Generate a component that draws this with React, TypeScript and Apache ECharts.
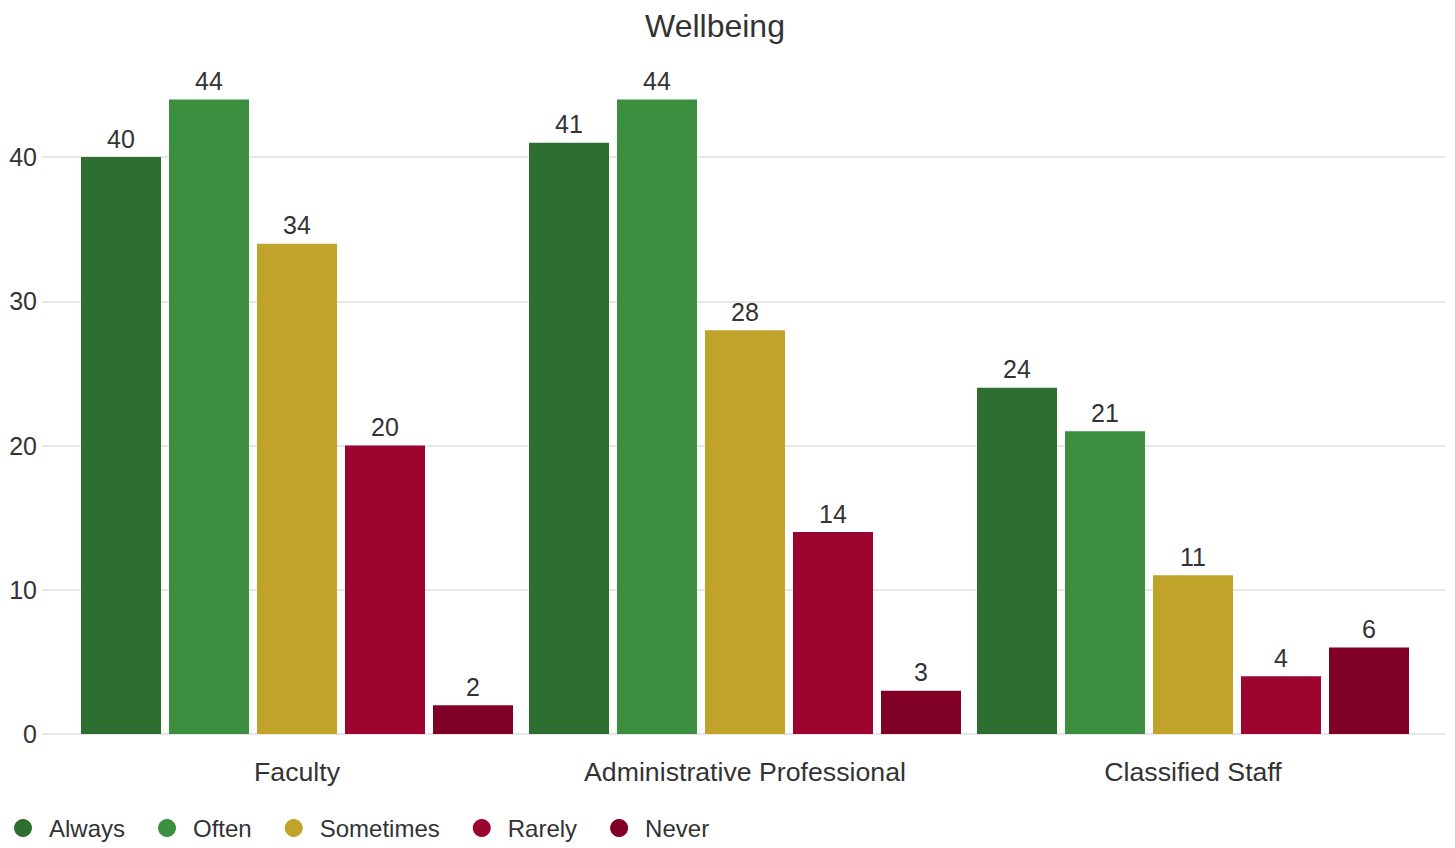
import React, { useEffect, useRef } from "react";
import * as echarts from "echarts";

const categories = ["Faculty", "Administrative Professional", "Classified Staff"];
const seriesNames = ["Always", "Often", "Sometimes", "Rarely", "Never"];
const always = [40, 41, 24];
const often = [44, 44, 21];
const sometimes = [34, 28, 11];
const rarely = [20, 14, 4];
const never = [2, 3, 6];
const colors = ["#2e6e31", "#3d8f40", "#c0a32a", "#9b0530", "#800026"];
const yTicks = { min: 0, max: 45, interval: 10 };

const FONT = "'Liberation Sans', Arial, sans-serif";
const TXT = "#333333";

export default function App() {
  const ref = useRef<HTMLDivElement>(null);
  useEffect(() => {
    if (!ref.current) return;
    const chart = echarts.init(ref.current, undefined, { renderer: "svg" });
    const data = [always, often, sometimes, rarely, never];
    chart.setOption({
      animation: false,
      textStyle: { fontFamily: FONT },
      title: {
        text: "Wellbeing",
        left: 640,
        top: 5,
        textStyle: { fontFamily: FONT, fontSize: 32, fontWeight: "normal", color: TXT },
      },
      legend: {
        left: 9,
        top: 811,
        icon: "circle",
        itemWidth: 18,
        itemHeight: 18,
        itemGap: 33,
        textStyle: { fontFamily: FONT, fontSize: 24, color: TXT, padding: [0, 0, 0, 12] },
        data: seriesNames,
      },
      grid: [
        { left: 42, right: 10, top: 85, bottom: 114 },
        { left: 73, right: 38, top: 85, bottom: 114 },
      ],
      xAxis: [
        { type: "category", gridIndex: 0, data: categories, show: false },
        {
          type: "category",
          gridIndex: 1,
          data: categories,
          axisLine: { show: false },
          axisTick: { show: false },
          axisLabel: { fontFamily: FONT, fontSize: 26.7, color: TXT, margin: 24 },
        },
      ],
      yAxis: [
        {
          type: "value",
          gridIndex: 0,
          min: yTicks.min,
          max: yTicks.max,
          interval: yTicks.interval,
          axisLine: { show: false },
          axisTick: { show: false },
          axisLabel: { fontFamily: FONT, fontSize: 25, color: TXT, margin: 5, showMaxLabel: false },
          splitLine: { show: true, showMaxLine: false, lineStyle: { color: "#e6e6e6", width: 2 } },
        },
        {
          type: "value",
          gridIndex: 1,
          min: yTicks.min,
          max: yTicks.max,
          interval: yTicks.interval,
          show: false,
          splitLine: { show: false },
        },
      ],
      series: seriesNames.map((name, i) => ({
        name,
        type: "bar",
        xAxisIndex: 1,
        yAxisIndex: 1,
        data: data[i],
        barWidth: 80,
        barGap: "10%",
        itemStyle: { color: colors[i] },
        label: {
          show: true,
          position: "top",
          distance: 6,
          fontFamily: FONT,
          fontSize: 25,
          color: TXT,
        },
      })),
    });
    return () => chart.dispose();
  }, []);
  return <div ref={ref} style={{ width: 1455, height: 848, position: "absolute", left: 0, top: 0 }} />;
}
